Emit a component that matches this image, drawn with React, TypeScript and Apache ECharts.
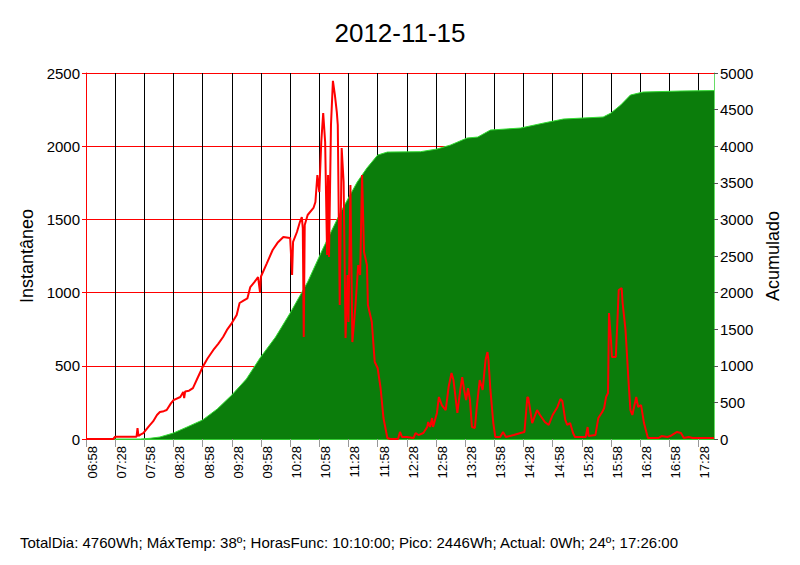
import React, { useEffect, useRef } from "react";
import * as echarts from "echarts";

const titleText = "2012-11-15";
const footerText =
  "TotalDia: 4760Wh; MáxTemp: 38º; HorasFunc: 10:10:00; Pico: 2446Wh; Actual: 0Wh; 24º; 17:26:00";
const leftAxisName = "Instantâneo";
const rightAxisName = "Acumulado";
const startMinuteOfDay = 6 * 60 + 58; // 06:58
const xMaxMinutes = 646;

// [minutes since 06:58, W]
const instantaneo: [number, number][] = [
  [0, 0], [28, 0], [30, 16], [52, 16], [53, 75], [54, 20], [56, 30], [59, 40], [65, 90], [69, 120], [73, 164], [76, 184],
  [80, 190], [83, 198], [87, 240], [90, 266], [97, 287], [100, 321], [101, 280], [102, 325], [106, 330], [110, 348], [115, 420], [120, 492], [125, 550], [131, 608],
  [136, 650], [141, 697], [145, 745], [150, 792], [155, 847], [158, 929], [162, 945], [166, 960], [169, 1038], [173, 1070], [177, 1106],
  [179, 1004], [180, 1110], [186, 1200], [192, 1291], [197, 1340], [203, 1380], [208, 1375], [210, 1373], [212, 1120], [213, 1346],
  [217, 1414], [220, 1482], [222, 1516], [223, 1441], [224, 697], [225, 1462], [228, 1530], [234, 1578],
  [236, 1619], [238, 1803], [240, 1687], [242, 2028], [244, 2227], [246, 2028], [248, 1257], [249, 1803],
  [250, 1243], [252, 2145], [254, 2446], [256, 2350], [258, 2233], [259, 2145], [261, 915], [263, 1988],
  [265, 1755], [267, 690], [269, 1120], [270, 799], [272, 1735], [274, 662], [277, 895], [280, 1188],
  [282, 1120], [284, 1803], [286, 1277], [289, 1188], [290, 915], [294, 799], [297, 526], [300, 485],
  [303, 350], [306, 143], [310, 7], [313, 0], [321, 0], [323, 48], [325, 14], [330, 14], [337, 7],
  [339, 41], [342, 27], [347, 41], [351, 82], [352, 116], [354, 82], [356, 143], [357, 82], [361, 178],
  [363, 287], [366, 232], [370, 198], [373, 355], [376, 451], [378, 403], [382, 178], [385, 335],
  [387, 423], [389, 335], [391, 266], [393, 348], [395, 266], [397, 82], [400, 75], [402, 219], [405, 403],
  [408, 335], [409, 403], [411, 540], [413, 594], [414, 540], [416, 335], [419, 109], [421, 14], [426, 14],
  [429, 48], [432, 14], [440, 27], [447, 41], [451, 48], [454, 287], [455, 280], [459, 109], [464, 198],
  [467, 164], [472, 116], [476, 96], [480, 164], [485, 219], [488, 273], [490, 260], [493, 130], [495, 96],
  [498, 109], [501, 41], [503, 14], [514, 14], [516, 82], [517, 20], [524, 27], [527, 143], [531, 184],
  [533, 212], [535, 287], [537, 314], [538, 861], [540, 676], [541, 560], [545, 560], [547, 861],
  [548, 1018], [551, 1031], [552, 929], [555, 744], [558, 403], [560, 198], [562, 164], [566, 287],
  [568, 219], [571, 232], [574, 109], [578, 7], [589, 7], [592, 20], [598, 14], [601, 20], [608, 48],
  [612, 41], [615, 7], [620, 14], [624, 7], [646, 7],
];

// [minutes since 06:58, Wh]
const acumulado: [number, number][] = [
  [0, 0], [56, 0], [66, 10], [76, 27], [90, 82], [104, 164], [120, 260], [135, 410], [150, 601],
  [165, 820], [179, 1106], [195, 1393], [210, 1721], [228, 2145], [244, 2609], [262, 3101], [279, 3511],
  [289, 3702], [300, 3879], [310, 3920], [344, 3925], [361, 3961], [375, 4016], [392, 4112], [403, 4125],
  [416, 4221], [447, 4248], [471, 4317], [491, 4371], [532, 4399], [540, 4453], [550, 4562], [560, 4699],
  [573, 4740], [612, 4754], [646, 4760],
];

const font = "Liberation Sans, Arial, sans-serif";

function fmtTime(v: number): string {
  const t = startMinuteOfDay + v;
  const h = Math.floor(t / 60);
  const m = t % 60;
  return String(h).padStart(2, "0") + ":" + String(m).padStart(2, "0");
}

export default function App() {
  const ref = useRef<HTMLDivElement>(null);
  useEffect(() => {
    if (!ref.current) return;
    const chart = echarts.init(ref.current, null, { renderer: "svg" });
    chart.setOption({
      animation: false,
      backgroundColor: "#ffffff",
      textStyle: { fontFamily: font },
      title: [
        {
          text: titleText,
          left: "center",
          top: 15,
          textStyle: { fontFamily: font, fontSize: 26, fontWeight: "normal", color: "#000" },
        },
        {
          text: footerText,
          left: 15,
          top: 530,
          textStyle: { fontFamily: font, fontSize: 15, fontWeight: "normal", color: "#000" },
        },
      ],
      grid: { left: 86, right: 86, top: 73, bottom: 126, containLabel: false },
      xAxis: {
        type: "value",
        min: 0,
        max: xMaxMinutes,
        interval: 30,
        axisLine: { show: true, onZero: false, lineStyle: { color: "#33cc33", width: 1 } },
        axisTick: { show: true, length: 8, lineStyle: { color: "#999999" } },
        axisLabel: {
          rotate: 90,
          margin: 7,
          verticalAlign: "top",
          fontSize: 13,
          fontFamily: font,
          color: "#000",
          showMaxLabel: false,
          formatter: (v: number) => (v % 30 === 0 ? fmtTime(v) : ""),
        },
        splitLine: { show: true, lineStyle: { color: "#000000", width: 1 } },
      },
      yAxis: [
        {
          type: "value",
          min: 0,
          max: 2500,
          interval: 500,
          position: "left",
          name: leftAxisName,
          nameLocation: "middle",
          nameGap: 48,
          nameTextStyle: { fontFamily: font, fontSize: 18, color: "#000" },
          axisLine: { show: true, lineStyle: { color: "#ff0000", width: 1 } },
          axisTick: { show: true, length: 4, lineStyle: { color: "#ff0000" } },
          axisLabel: {
            fontSize: 15,
            fontFamily: font,
            color: "#000",
            margin: 6,
            formatter: (v: number) => String(v),
          },
          splitLine: { show: true, lineStyle: { color: "#ff0000", width: 1 } },
        },
        {
          type: "value",
          min: 0,
          max: 5000,
          interval: 500,
          position: "right",
          name: rightAxisName,
          nameLocation: "middle",
          nameGap: 50,
          nameRotate: 90,
          nameTextStyle: { fontFamily: font, fontSize: 18, color: "#000" },
          axisLine: { show: true, lineStyle: { color: "#66dd66", width: 1 } },
          axisTick: { show: true, length: 4, lineStyle: { color: "#555555" } },
          axisLabel: {
            fontSize: 15,
            fontFamily: font,
            color: "#000",
            margin: 6,
            formatter: (v: number) => String(v),
          },
          splitLine: { show: false },
        },
      ],
      series: [
        {
          type: "line",
          name: rightAxisName,
          yAxisIndex: 1,
          data: acumulado,
          showSymbol: false,
          symbol: "none",
          lineStyle: { color: "#33dd33", width: 1 },
          areaStyle: { color: "#0b7d0b", opacity: 1 },
          z: 2,
        },
        {
          type: "line",
          name: leftAxisName,
          yAxisIndex: 0,
          data: instantaneo,
          showSymbol: false,
          symbol: "none",
          lineStyle: { color: "#ff0000", width: 2 },
          z: 3,
        },
      ],
    });
    return () => chart.dispose();
  }, []);
  return (
    <div
      ref={ref}
      style={{ position: "absolute", left: 0, top: 0, width: 800, height: 565 }}
    />
  );
}
